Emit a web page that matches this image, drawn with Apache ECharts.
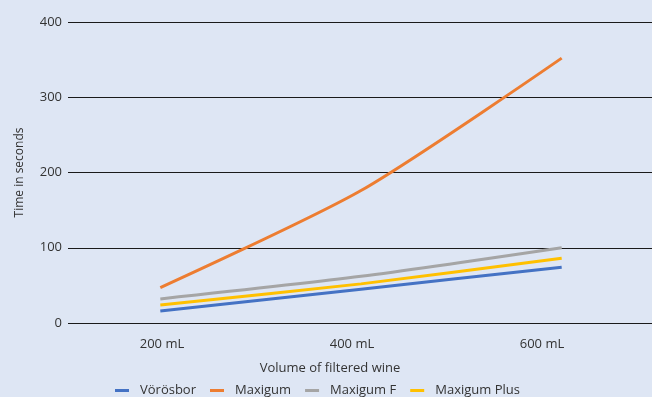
<!DOCTYPE html>
<html><head><meta charset="utf-8">
<script src="https://cdn.jsdelivr.net/npm/echarts@6/dist/echarts.min.js"></script>
<style>html,body{margin:0;padding:0;background:#dee6f4}#c{width:652px;height:397px}</style>
</head><body><div id="c"></div>
<script>
const volumes = [200, 400, 600];
const categories = ['200 mL', '400 mL', '600 mL'];
const vorosbor = [16, 45, 74];
const maxigum = [47, 176, 352];
const maxigumF = [32, 62, 100];
const maxigumPlus = [24, 52, 86];
const yTicks = [0, 100, 200, 300, 400];

const font = 'Open Sans';
function pts(vals){ return volumes.map((v,i)=>[v, vals[i]]); }
function ser(name, vals, color){
  return {name, type:'line', data: pts(vals), xAxisIndex:0, yAxisIndex:0,
    smooth: 0.25, showSymbol:false, symbol:'none',
    lineStyle:{color, width:3}, itemStyle:{color}};
}
const chart = echarts.init(document.getElementById('c'));
chart.setOption({
  backgroundColor:'#dee6f4',
  animation:false,
  textStyle:{fontFamily:font},
  grid:[
    {left:68, right:0, top:22, bottom:74},
    {left:67, width:570, top:22, bottom:74}
  ],
  xAxis:[
    {type:'value', gridIndex:0, min:108, max:690, axisLabel:{show:false}, axisTick:{show:false}, axisLine:{show:false}, splitLine:{show:false}},
    {type:'category', gridIndex:1, data:categories, axisLine:{show:false}, axisTick:{show:false}, splitLine:{show:false},
      axisLabel:{color:'#333', fontSize:13, margin:15, fontFamily:font}}
  ],
  yAxis:[
    {type:'value', gridIndex:0, min:0, max:400, interval:100,
      axisLabel:{color:'#333', fontSize:13, margin:6, fontFamily:font},
      axisLine:{show:false}, axisTick:{show:false},
      splitLine:{lineStyle:{color:'#1a1a1a', width:1}},
      name:'Time in seconds', nameLocation:'middle', nameRotate:90, nameGap:42,
      nameTextStyle:{color:'#333', fontSize:12, fontFamily:font}},
    {type:'value', gridIndex:1, show:false, min:0, max:400}
  ],
  graphic:[{type:'text', style:{text:'Volume of filtered wine', x:330, y:368, align:'center', verticalAlign:'middle', fill:'#333', font:'13px "Open Sans"'}}],
  legend:{top:379, left:110, itemGap:14, itemWidth:14, itemHeight:3, icon:'rect',
    textStyle:{color:'#333', fontSize:13, fontFamily:font, padding:[0,0,0,6]},
    data:['Vörösbor','Maxigum','Maxigum F','Maxigum Plus']},
  series:[
    ser('Vörösbor', vorosbor, '#4472c4'),
    ser('Maxigum', maxigum, '#ed7d31'),
    ser('Maxigum F', maxigumF, '#a5a5a5'),
    ser('Maxigum Plus', maxigumPlus, '#ffc000')
  ]
});
</script></body></html>
